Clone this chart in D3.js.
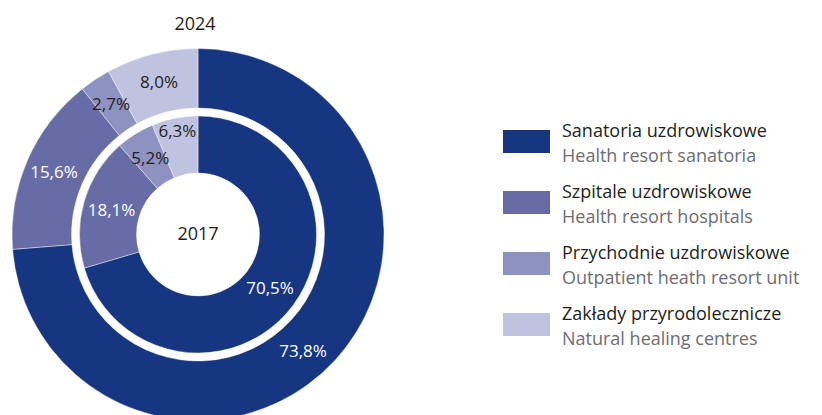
<!DOCTYPE html>
<html>
<head>
<meta charset="utf-8">
<script src="https://cdn.jsdelivr.net/npm/d3@7"></script>
<style>
  body { margin: 0; background: #fff; }
  svg { display: block; font-family: "Open Sans", sans-serif; }
</style>
</head>
<body>
<svg id="chart" width="822" height="415"></svg>
<script>
const categoriesPl = ["Sanatoria uzdrowiskowe", "Szpitale uzdrowiskowe", "Przychodnie uzdrowiskowe", "Zakłady przyrodolecznicze"]
const categoriesEn = ["Health resort sanatoria", "Health resort hospitals", "Outpatient heath resort unit", "Natural healing centres"]
const values2024 = [73.8, 15.6, 2.7, 8.0]
const values2017 = [70.5, 18.1, 5.2, 6.3]
const colors = ["#173682", "#676ca6", "#8e92c1", "#bfc3e0"]

const svg = d3.select("#chart")
const cx = 198, cy = 234.5
const fmt = v => d3.format(".1f")(v).replace(".", ",") + "%"

const pie = d3.pie().sort(null).value(d => d)

const g = svg.append("g").attr("transform", `translate(${cx},${cy})`)

// outer ring: 2024
const outerArc = d3.arc().innerRadius(126.5).outerRadius(186)
const outer = g.append("g")
outer.selectAll("path")
  .data(pie(values2024))
  .join("path")
  .attr("d", outerArc)
  .attr("fill", (d, i) => colors[i])
  .attr("stroke", "#fff")
  .attr("stroke-width", 0.4)

// inner ring: 2017
const innerArc = d3.arc().innerRadius(61.5).outerRadius(118.5)
const inner = g.append("g")
inner.selectAll("path")
  .data(pie(values2017))
  .join("path")
  .attr("d", innerArc)
  .attr("fill", (d, i) => colors[i])
  .attr("stroke", "#fff")
  .attr("stroke-width", 0.4)

// labels
const labelArcOuter = d3.arc().innerRadius(157).outerRadius(157)
const labelR2017 = d => d.index === 3 ? 105 : 90

outer.selectAll("text")
  .data(pie(values2024))
  .join("text")
  .attr("transform", d => {
    // big slice label sits a bit further round in the original
    if (d.index === 0) {
      const a = d.startAngle + (d.endAngle - d.startAngle) * 0.52
      return `translate(${157 * Math.sin(a)},${-157 * Math.cos(a)})`
    }
    return `translate(${labelArcOuter.centroid(d)})`
  })
  .attr("text-anchor", "middle")
  .attr("dy", "0.35em")
  .attr("font-size", 17)
  .attr("fill", d => d.index < 2 ? "#fff" : "#231f20")
  .text(d => fmt(d.data))

inner.selectAll("text")
  .data(pie(values2017))
  .join("text")
  .attr("transform", d => {
    const r = labelR2017(d)
    return `translate(${d3.arc().innerRadius(r).outerRadius(r).centroid(d)})`
  })
  .attr("text-anchor", "middle")
  .attr("dy", "0.35em")
  .attr("font-size", 17)
  .attr("fill", d => d.index < 2 ? "#fff" : "#231f20")
  .text(d => fmt(d.data))

g.append("text")
  .attr("text-anchor", "middle")
  .attr("y", 5)
  .attr("font-size", 18)
  .attr("fill", "#231f20")
  .text("2017")

svg.append("text")
  .attr("x", 195)
  .attr("y", 30)
  .attr("text-anchor", "middle")
  .attr("font-size", 18)
  .attr("fill", "#231f20")
  .text("2024")

// legend
const legend = svg.append("g").attr("transform", "translate(503,130)")
const item = legend.selectAll("g")
  .data(categoriesPl)
  .join("g")
  .attr("transform", (d, i) => `translate(0,${i * 61})`)

item.append("rect")
  .attr("width", 47)
  .attr("height", 23)
  .attr("fill", (d, i) => colors[i])

item.append("text")
  .attr("x", 59)
  .attr("y", 6.5)
  .attr("font-size", 18)
  .attr("fill", "#231f20")
  .text(d => d)

item.append("text")
  .attr("x", 59)
  .attr("y", 31.5)
  .attr("font-size", 18)
  .attr("fill", "#6d6e71")
  .text((d, i) => categoriesEn[i])
</script>
</body>
</html>
